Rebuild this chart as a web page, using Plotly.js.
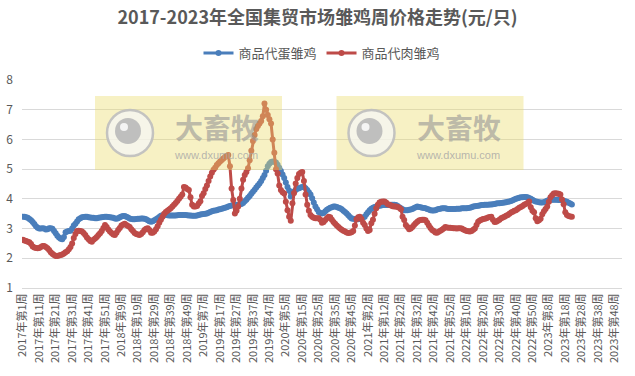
<!DOCTYPE html>
<html><head><meta charset="utf-8">
<script src="https://cdn.plot.ly/plotly-3.0.1.min.js"></script>
<style>html,body{margin:0;padding:0;background:#fff}</style>
</head><body><div id="chart" style="width:635px;height:376px"></div>
<script>
// categories
const years = [2017, 2018, 2019, 2020, 2021, 2022, 2023];
const weeksPerYear = [52, 52, 52, 53, 52, 52, 52];
const tickStep = 10;
const seriesNames = ['商品代蛋雏鸡', '商品代肉雏鸡'];

// 商品代蛋雏鸡 (元/只), weekly from 2017 week 1
const layerChick = [
3.40,3.40,3.38,3.36,3.32,3.28,3.22,3.15,3.08,3.03,
3.00,3.00,3.01,3.00,2.97,2.98,3.01,3.01,2.99,2.92,
2.84,2.76,2.70,2.66,2.64,2.72,2.88,2.90,2.92,2.93,
3.00,3.10,3.16,3.24,3.31,3.35,3.38,3.39,3.40,3.40,
3.38,3.37,3.36,3.36,3.35,3.35,3.36,3.37,3.38,3.39,
3.40,3.40,3.39,3.38,3.37,3.36,3.34,3.33,3.35,3.38,
3.41,3.42,3.42,3.40,3.37,3.34,3.32,3.31,3.31,3.32,
3.33,3.33,3.34,3.34,3.33,3.31,3.28,3.25,3.23,3.25,
3.28,3.31,3.35,3.39,3.43,3.45,3.46,3.46,3.45,3.44,
3.44,3.44,3.44,3.44,3.45,3.46,3.46,3.46,3.46,3.46,
3.45,3.44,3.44,3.43,3.43,3.43,3.44,3.46,3.47,3.48,
3.49,3.50,3.51,3.53,3.56,3.58,3.60,3.61,3.62,3.64,
3.65,3.67,3.68,3.70,3.72,3.74,3.76,3.78,3.79,3.80,
3.80,3.80,3.81,3.83,3.86,3.92,3.97,4.04,4.10,4.17,
4.24,4.31,4.38,4.45,4.52,4.60,4.70,4.80,4.95,5.10,
5.18,5.24,5.26,5.25,5.22,5.15,5.05,4.94,4.82,4.70,
4.55,4.40,4.28,4.08,4.15,4.25,4.30,4.34,4.36,4.38,
4.40,4.41,4.36,4.30,4.22,4.15,4.02,3.88,3.74,3.65,
3.56,3.52,3.51,3.52,3.58,3.63,3.67,3.70,3.72,3.74,
3.74,3.73,3.70,3.68,3.65,3.60,3.56,3.51,3.45,3.39,
3.34,3.33,3.32,3.31,3.31,3.33,3.35,3.37,3.40,3.48,
3.55,3.62,3.67,3.70,3.73,3.74,3.76,3.77,3.78,3.79,
3.79,3.79,3.79,3.79,3.80,3.80,3.80,3.79,3.76,3.72,
3.68,3.65,3.62,3.62,3.62,3.63,3.64,3.66,3.69,3.72,
3.74,3.73,3.72,3.70,3.69,3.68,3.66,3.64,3.62,3.61,
3.61,3.62,3.64,3.66,3.67,3.68,3.68,3.68,3.67,3.66,
3.66,3.66,3.66,3.66,3.67,3.67,3.67,3.68,3.68,3.68,
3.68,3.69,3.70,3.72,3.74,3.75,3.76,3.77,3.78,3.79,
3.79,3.80,3.80,3.80,3.81,3.81,3.82,3.83,3.84,3.85,
3.85,3.86,3.87,3.88,3.89,3.90,3.91,3.93,3.95,3.98,
4.00,4.02,4.04,4.05,4.05,4.06,4.06,4.05,4.03,4.00,
3.97,3.94,3.91,3.90,3.89,3.88,3.88,3.89,3.91,3.94,
3.96,3.96,3.97,3.97,3.97,3.97,3.96,3.96,3.95,3.94,
3.92,3.90,3.87,3.84,3.81
];

// 商品代肉雏鸡 (元/只), weekly from 2017 week 1
const broilerChick = [
2.62,2.60,2.58,2.56,2.54,2.48,2.40,2.36,2.35,2.34,
2.35,2.38,2.41,2.41,2.38,2.34,2.28,2.20,2.15,2.11,
2.08,2.08,2.09,2.11,2.13,2.16,2.20,2.24,2.30,2.38,
2.50,2.68,2.82,2.92,2.93,2.92,2.90,2.85,2.78,2.70,
2.64,2.58,2.56,2.62,2.67,2.72,2.78,2.84,2.92,3.02,
3.12,3.05,2.97,2.90,2.85,2.80,2.78,2.86,2.95,3.02,
3.10,3.14,3.16,3.12,3.09,3.05,2.98,2.92,2.85,2.82,
2.80,2.78,2.82,2.88,2.95,2.99,3.01,2.95,2.86,2.86,
2.90,2.98,3.08,3.20,3.30,3.40,3.50,3.56,3.60,3.64,
3.68,3.74,3.80,3.86,3.93,4.00,4.07,4.15,4.40,4.38,
4.33,4.30,4.05,3.80,3.74,3.74,3.76,3.84,3.92,4.10,
4.19,4.33,4.45,4.60,4.75,4.88,4.98,5.05,5.14,5.20,
5.26,5.31,5.36,5.41,5.45,5.48,5.10,4.35,3.96,3.51,
3.60,3.74,4.00,4.35,4.64,4.80,4.90,5.03,5.30,5.62,
5.95,6.15,6.35,6.45,6.54,6.62,6.78,7.21,7.00,6.82,
6.68,6.54,6.00,5.55,5.00,4.85,4.45,4.30,4.22,4.18,
3.90,3.62,3.40,3.26,3.85,4.20,4.52,4.70,4.84,4.88,
4.90,4.60,4.15,3.80,3.60,3.46,3.40,3.36,3.35,3.35,
3.35,3.30,3.20,3.22,3.29,3.35,3.40,3.38,3.30,3.22,
3.16,3.10,3.05,3.00,2.96,2.93,2.90,2.87,2.85,2.86,
2.88,2.92,3.10,3.31,3.38,3.40,3.32,3.20,3.12,3.00,
2.92,2.95,3.18,3.30,3.50,3.68,3.80,3.88,3.90,3.91,
3.91,3.88,3.82,3.80,3.78,3.75,3.74,3.74,3.73,3.70,
3.65,3.40,3.29,3.12,3.05,2.98,3.00,3.05,3.12,3.18,
3.23,3.27,3.29,3.30,3.30,3.28,3.20,3.10,3.02,2.95,
2.92,2.87,2.86,2.89,2.93,2.96,3.00,3.05,3.04,3.03,
3.03,3.02,3.01,3.01,3.00,3.01,3.01,3.00,2.97,2.94,
2.92,2.91,2.90,2.92,2.96,3.00,3.12,3.23,3.27,3.30,
3.32,3.33,3.35,3.37,3.39,3.40,3.30,3.22,3.23,3.26,
3.30,3.35,3.37,3.40,3.43,3.46,3.50,3.54,3.57,3.60,
3.62,3.66,3.70,3.73,3.76,3.80,3.83,3.86,3.91,3.72,
3.60,3.55,3.35,3.25,3.28,3.33,3.48,3.58,3.66,3.74,
3.90,4.05,4.12,4.18,4.19,4.18,4.17,4.15,3.98,3.82,
3.55,3.46,3.42,3.41,3.40
];

const weekLabels = [];
years.forEach((y, k) => {
  for (let w = 1; w <= weeksPerYear[k]; w++) weekLabels.push(y + '年第' + w + '周');
});
const tickLabels = weekLabels.filter((_, i) => i % tickStep === 0);

const FONT = '"Noto Sans CJK SC", "Microsoft YaHei", sans-serif';
const GRAY = '#595959';
const colors = ['#4A7EBB', '#BE4B48'];

const traces = [layerChick, broilerChick].map((vals, k) => ({
  type: 'scatter',
  mode: 'lines+markers',
  name: seriesNames[k],
  x: weekLabels.slice(0, vals.length),
  y: vals,
  line: {color: colors[k], width: 3},
  marker: {color: colors[k], size: 6, symbol: 'circle'},
  cliponaxis: true
}));

// pixel helpers for the watermark overlay
const PL = 22, PW = 600, PT = 80, PH = 208;
const px = v => (v - PL) / PW;
const py = v => (PT + PH - v) / PH;

const shapes = [];
const annotations = [];
[0, 241.5].forEach(dx => {
  shapes.push({type: 'rect', xref: 'paper', yref: 'paper', layer: 'above',
    x0: px(95 + dx), x1: px(282 + dx), y0: py(170), y1: py(96),
    fillcolor: 'rgba(235,220,108,0.40)', line: {width: 0}});
  shapes.push({type: 'circle', xref: 'paper', yref: 'paper', layer: 'above',
    x0: px(107 + dx), x1: px(153 + dx), y0: py(156), y1: py(110),
    fillcolor: 'rgba(245,245,245,0.75)', line: {color: 'rgba(190,190,190,0.9)', width: 2.5}});
  shapes.push({type: 'circle', xref: 'paper', yref: 'paper', layer: 'above',
    x0: px(115 + dx), x1: px(141 + dx), y0: py(144), y1: py(118),
    fillcolor: 'rgba(185,185,185,0.9)', line: {width: 0}});
  shapes.push({type: 'circle', xref: 'paper', yref: 'paper', layer: 'above',
    x0: px(120 + dx), x1: px(128 + dx), y0: py(131), y1: py(123),
    fillcolor: 'rgba(250,250,250,0.9)', line: {width: 0}});
  annotations.push({xref: 'paper', yref: 'paper', x: px(217 + dx), y: py(127),
    text: '<b>大畜牧</b>', showarrow: false, xanchor: 'center', yanchor: 'middle',
    font: {family: FONT, size: 28, color: 'rgba(150,150,150,0.6)'}});
  annotations.push({xref: 'paper', yref: 'paper', x: px(216 + dx), y: py(155),
    text: 'www.dxumu.com', showarrow: false, xanchor: 'center', yanchor: 'middle',
    font: {family: 'Arial, "Liberation Sans", sans-serif', size: 11, color: 'rgba(165,165,165,0.8)'}});
});

const layout = {
  width: 635, height: 376,
  margin: {l: PL, r: 635 - PL - PW, t: PT, b: 376 - PT - PH, pad: 0},
  paper_bgcolor: '#ffffff', plot_bgcolor: '#ffffff',
  font: {family: FONT, color: GRAY},
  title: {text: '<b>2017-2023年全国集贸市场雏鸡周价格走势(元/只)</b>',
    x: 0.5, xanchor: 'center', y: 1 - 18 / 376, yanchor: 'middle',
    font: {family: FONT, size: 18, color: GRAY}},
  showlegend: true,
  legend: {orientation: 'h', x: 0.5, xanchor: 'center', y: 1 + (PT - 53) / PH, yanchor: 'middle',
    font: {family: FONT, size: 13, color: GRAY}, itemwidth: 30, bgcolor: 'rgba(0,0,0,0)'},
  xaxis: {type: 'category', categoryorder: 'array', categoryarray: weekLabels,
    range: [-0.5, weekLabels.length - 0.5], tickmode: 'array', tickvals: tickLabels, ticktext: tickLabels,
    tickangle: -90, tickfont: {family: FONT, size: 11, color: GRAY},
    showgrid: false, showline: true, linecolor: '#d9d9d9', linewidth: 1, ticks: '', zeroline: false,
    automargin: false, fixedrange: true},
  yaxis: {range: [1, 8], dtick: 1, tick0: 1, showgrid: true, gridcolor: '#d9d9d9', gridwidth: 1,
    zeroline: false, showline: false, ticks: '', ticklabelstandoff: 8,
    tickfont: {family: FONT, size: 12, color: GRAY}, automargin: false, fixedrange: true},
  shapes: shapes,
  annotations: annotations
};

Plotly.newPlot('chart', traces, layout, {staticPlot: true, displayModeBar: false});
</script></body></html>
